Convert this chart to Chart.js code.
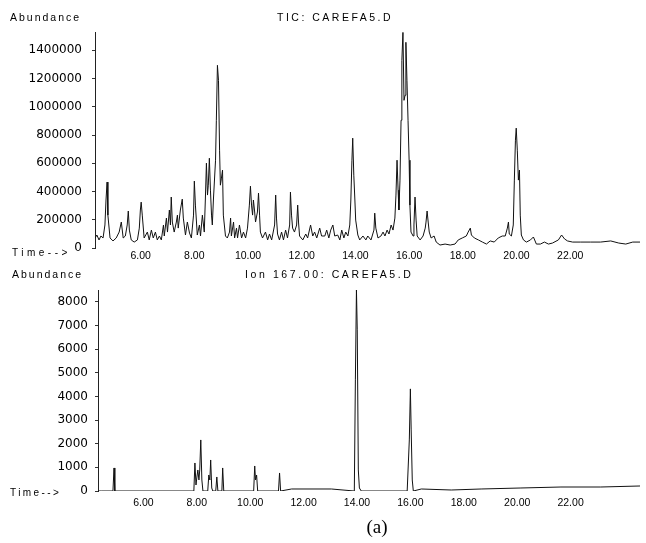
<!DOCTYPE html>
<html><head><meta charset="utf-8">
<script src="https://cdn.jsdelivr.net/npm/chart.js@4"></script>
<style>
html,body{margin:0;padding:0;background:#fff;width:646px;height:543px;overflow:hidden}
#c1{position:absolute;left:0;top:0}
#c2{position:absolute;left:0;top:262px}
</style></head><body>
<canvas id="c1" width="646" height="270"></canvas>
<canvas id="c2" width="646" height="281"></canvas>
<script>
// ---- data ----
const timeTicks = [6, 8, 10, 12, 14, 16, 18, 20, 22];
const ticYTicks = [0, 200000, 400000, 600000, 800000, 1000000, 1200000, 1400000];
const ionYTicks = [0, 1000, 2000, 3000, 4000, 5000, 6000, 7000, 8000];

const ticTime = [4.30,4.37,4.45,4.52,4.60,4.67,4.71,4.75,4.78,4.86,4.97,5.09,5.20,5.28,5.35,5.43,5.50,5.54,5.58,5.65,
5.76,5.88,5.95,5.99,6.02,6.06,6.13,6.25,6.32,6.40,6.47,6.55,6.62,6.70,6.77,6.85,6.88,6.96,7.00,7.07,
7.11,7.14,7.18,7.25,7.33,7.37,7.40,7.48,7.55,7.59,7.67,7.74,7.82,7.89,7.97,8.00,8.04,8.11,8.19,8.23,
8.30,8.37,8.41,8.45,8.49,8.52,8.56,8.60,8.64,8.67,8.71,8.79,8.82,8.86,8.90,8.94,8.97,9.01,9.05,9.08,
9.16,9.23,9.31,9.35,9.38,9.46,9.50,9.57,9.61,9.68,9.76,9.83,9.91,9.98,10.05,10.09,10.13,10.17,10.20,10.24,
10.28,10.35,10.39,10.43,10.46,10.54,10.65,10.73,10.80,10.88,10.99,11.03,11.06,11.10,11.17,11.25,11.32,11.40,11.47,11.55,
11.58,11.62,11.66,11.73,11.81,11.85,11.88,11.92,12.04,12.15,12.22,12.33,12.41,12.48,12.56,12.67,12.74,12.86,12.93,13.01,
13.08,13.16,13.23,13.34,13.42,13.49,13.57,13.64,13.72,13.79,13.83,13.87,13.90,13.94,13.98,14.01,14.09,14.16,14.28,14.39,
14.46,14.58,14.69,14.72,14.76,14.84,14.95,15.03,15.10,15.18,15.25,15.33,15.40,15.47,15.51,15.55,15.59,15.62,15.66,15.70,
15.73,15.77,15.81,15.85,15.88,15.92,15.96,16.00,16.03,16.07,16.15,16.18,16.22,16.26,16.30,16.41,16.52,16.60,16.63,16.67,
16.71,16.75,16.82,16.93,17.01,17.15,17.34,17.53,17.71,17.83,17.98,18.13,18.20,18.28,18.32,18.43,18.58,18.73,18.88,19.02,
19.17,19.32,19.47,19.58,19.66,19.70,19.73,19.81,19.88,19.92,19.96,19.99,20.03,20.07,20.11,20.14,20.18,20.26,20.37,20.52,
20.63,20.74,20.89,21.04,21.19,21.34,21.56,21.68,21.79,21.90,22.09,22.39,22.76,23.13,23.51,23.81,24.07,24.33,24.60];
const ticAbundance = [70000,92000,57000,85000,71000,163000,340000,467000,233000,71000,50000,71000,113000,184000,71000,85000,163000,262000,127000,57000,
42000,57000,141000,269000,325000,233000,71000,113000,57000,127000,71000,113000,57000,85000,57000,163000,85000,212000,113000,269000,
163000,361000,184000,113000,184000,233000,141000,269000,346000,212000,92000,184000,106000,71000,233000,474000,304000,92000,163000,85000,
233000,113000,340000,601000,375000,445000,636000,410000,233000,163000,340000,622000,905000,1294000,1188000,693000,445000,495000,552000,233000,
85000,71000,113000,212000,85000,184000,71000,141000,71000,163000,71000,113000,71000,141000,304000,438000,304000,233000,340000,269000,
184000,255000,389000,233000,113000,71000,113000,57000,99000,57000,163000,375000,212000,99000,57000,113000,57000,127000,71000,163000,
396000,233000,141000,113000,163000,304000,184000,85000,57000,99000,71000,163000,85000,113000,71000,141000,85000,85000,127000,71000,
127000,163000,85000,92000,57000,127000,71000,113000,85000,163000,340000,622000,778000,516000,340000,198000,92000,57000,85000,57000,
85000,57000,127000,247000,141000,71000,85000,113000,85000,127000,99000,163000,127000,212000,375000,622000,410000,269000,481000,905000,
1329000,1527000,1046000,1082000,1457000,1188000,905000,622000,304000,113000,85000,163000,361000,198000,85000,57000,85000,141000,184000,262000,
184000,113000,71000,85000,42000,21000,28000,21000,28000,57000,71000,85000,113000,141000,92000,71000,57000,42000,28000,50000,
42000,71000,85000,85000,141000,184000,99000,85000,163000,481000,764000,849000,693000,481000,552000,233000,92000,57000,42000,57000,
78000,28000,28000,42000,28000,35000,57000,92000,64000,50000,42000,42000,42000,42000,50000,35000,28000,42000,42000];

const ionTime = [4.30,4.42,4.86,4.90,4.93,7.89,7.93,7.97,8.00,8.04,8.08,8.11,8.15,8.19,8.23,8.41,8.45,8.49,8.52,8.56,
8.60,8.71,8.75,8.79,8.94,8.97,9.01,10.13,10.17,10.20,10.24,10.28,11.06,11.10,11.14,11.55,13.04,13.90,13.94,13.98,
14.01,14.05,14.09,14.16,15.88,15.96,16.00,16.03,16.07,16.11,16.41,17.53,18.65,20.14,21.64,23.13,24.60];
const ionAbundance = [0,0,0,974,0,0,1185,254,550,889,466,889,2159,466,0,0,677,466,1312,127,
0,0,593,0,0,974,0,0,1058,466,677,0,0,762,0,85,85,0,4700,8500,
6815,889,127,0,0,2159,4318,2582,466,0,85,42,85,127,169,169,212];

// ---- drawing ----
const TXT = '#000';
function textPlugin(items) {
  return {
    id: 'texts',
    afterDraw(chart) {
      const ctx = chart.ctx;
      ctx.save();
      ctx.fillStyle = TXT;
      ctx.textBaseline = 'middle';
      for (const it of items) {
        ctx.font = it.font;
        ctx.letterSpacing = it.ls || '0px';
        ctx.textAlign = it.align || 'left';
        ctx.fillText(it.text, it.x, it.y);
      }
      ctx.restore();
    }
  };
}

function makeChart(id, times, values, yTicks, yMax, yWidth, xHeight, pad, yPad, xPad, texts) {
  const pts = times.map((t, i) => ({ x: t, y: values[i] }));
  return new Chart(document.getElementById(id), {
    type: 'line',
    data: { datasets: [{ data: pts, borderColor: '#111', borderWidth: 1, pointRadius: 0, tension: 0, fill: false }] },
    options: {
      responsive: false, animation: false, events: [],
      layout: { padding: pad },
      plugins: { legend: { display: false }, tooltip: { enabled: false } },
      scales: {
        x: {
          type: 'linear', min: 4.3, max: 24.6,
          afterBuildTicks: s => { s.ticks = timeTicks.map(v => ({ value: v })); },
          afterFit: s => { s.height = xHeight; },
          grid: { display: false, drawTicks: false },
          border: { display: false },
          ticks: { color: TXT, padding: xPad, maxRotation: 0, autoSkip: false,
                   font: { family: 'Liberation Sans', size: 10.5 },
                   callback: v => Number(v).toFixed(2) }
        },
        y: {
          type: 'linear', min: 0, max: yMax,
          afterBuildTicks: s => { s.ticks = yTicks.map(v => ({ value: v })); },
          afterFit: s => { s.width = yWidth; },
          grid: { display: true, drawOnChartArea: false, drawTicks: true, tickLength: 3, color: '#333' },
          border: { display: true, color: '#222', width: 1 },
          ticks: { color: TXT, padding: yPad, font: { family: 'DejaVu Sans', size: 12 },
                   callback: v => String(v) }
        }
      }
    },
    plugins: [textPlugin(texts)]
  });
}

const F = '10.5px "Liberation Sans"';
makeChart('c1', ticTime, ticAbundance, ticYTicks, 1530000, 95, 22,
  { top: 32, right: 6, bottom: 0, left: 0 }, 10, 2, [
    { text: 'Abundance', x: 10, y: 18, font: F, ls: '2px' },
    { text: 'TIC: CAREFA5.D', x: 277, y: 18, font: F, ls: '2.5px' },
    { text: 'Time-->', x: 12, y: 253, font: '10px "Liberation Sans"', ls: '3.5px' }
  ]);

makeChart('c2', ionTime, ionAbundance, ionYTicks, 8500, 98, 29,
  { top: 28, right: 6, bottom: 23, left: 0 }, 7, 6, [
    { text: 'Abundance', x: 12, y: 13, font: F, ls: '2px' },
    { text: 'Ion 167.00: CAREFA5.D', x: 245, y: 13, font: F, ls: '2.6px' },
    { text: 'Time-->', x: 10, y: 231, font: '10px "Liberation Sans"', ls: '2.4px' },
    { text: '(a)', x: 377, y: 266, font: '19px "Liberation Serif"', align: 'center' }
  ]);
</script>
</body></html>
